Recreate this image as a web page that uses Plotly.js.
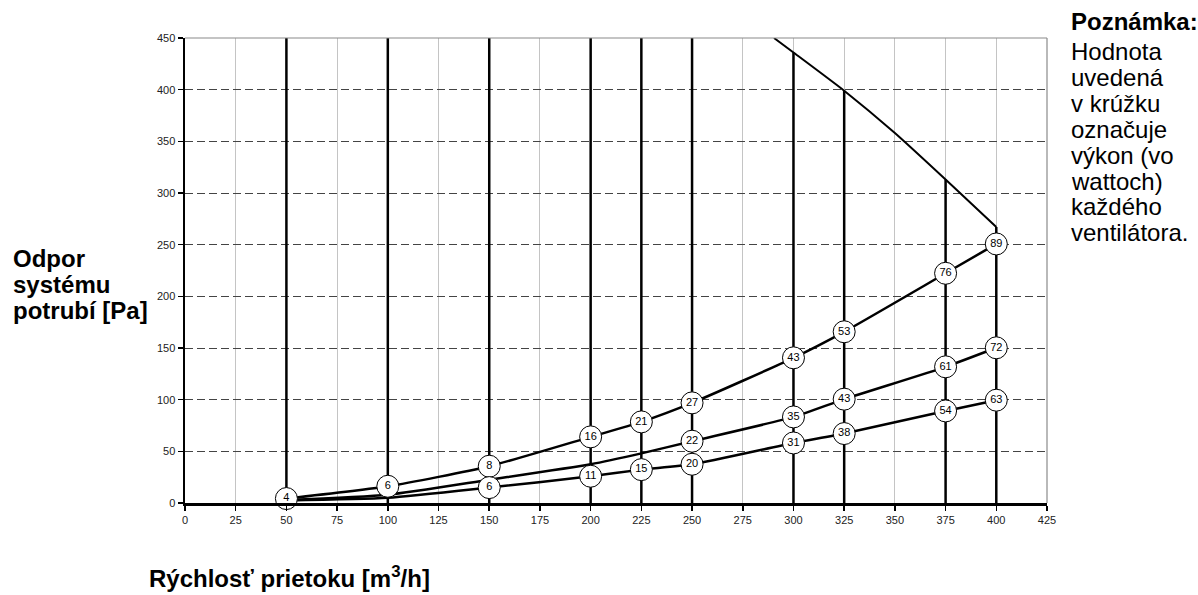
<!DOCTYPE html>
<html>
<head>
<meta charset="utf-8">
<script src="https://cdn.plot.ly/plotly-3.0.1.min.js"></script>
<style>html,body{margin:0;padding:0;background:#fff;}#chart{width:1198px;height:595px;}</style>
</head>
<body>
<div id="chart"></div>
<script>
// ---- data ----
var flows = [50, 100, 150, 200, 225, 250, 300, 325, 375, 400];
var fanTop = [450, 450, 450, 450, 450, 450, 436, 399, 313, 267];

var limitX = [290.4, 300, 325, 350, 375, 400];
var limitY = [450, 436, 399, 358, 313, 267];

var highY = [4.3, 16.2, 35.6, 64, 78.5, 96.9, 140.5, 165.7, 222.3, 250.7];
var highW = [4, 6, 8, 16, 21, 27, 43, 53, 76, 89];

var midY = [3, 8, 22.5, 37.5, 48, 59.8, 83.3, 100.5, 131.8, 150.2];
var midW = [null, null, null, null, null, 22, 35, 43, 61, 72];

var lowY = [2.5, 5, 14.9, 25.9, 32.3, 37.5, 58.1, 67.2, 89.1, 99.5];
var lowW = [null, null, 6, 11, 15, 20, 31, 38, 54, 63];

var xTicks = [0, 25, 50, 75, 100, 125, 150, 175, 200, 225, 250, 275, 300, 325, 350, 375, 400, 425];
var yTicks = [0, 50, 100, 150, 200, 250, 300, 350, 400, 450];

var yTitleLines = ["Odpor", "systému", "potrubí [Pa]"];
var xTitle = "Rýchlosť prietoku [m<sup>3</sup>/h]";
var noteLines = ["<b>Poznámka:</b>", "Hodnota", "uvedená", "v krúžku", "označuje", "výkon (vo", "wattoch)", "každého", "ventilátora."];

// ---- build traces ----
var FONT = "Arial, 'Liberation Sans', sans-serif";
var vx = [], vy = [];
for (var i = 0; i < flows.length; i++) {
  vx.push(flows[i], flows[i], null);
  vy.push(0, fanTop[i], null);
}
var traces = [];
traces.push({x: vx, y: vy, mode: 'lines', line: {color: '#000', width: 2.5}, hoverinfo: 'skip'});
traces.push({x: limitX, y: limitY, mode: 'lines', line: {color: '#000', width: 2, shape: 'spline', smoothing: 0.5}, hoverinfo: 'skip'});
[highY, midY, lowY].forEach(function (ys) {
  traces.push({x: flows, y: ys, mode: 'lines', line: {color: '#000', width: 2.5, shape: 'spline', smoothing: 0.6}, hoverinfo: 'skip'});
});
var mx = [], my = [], mt = [];
[[highY, highW], [midY, midW], [lowY, lowW]].forEach(function (p) {
  for (var i = 0; i < flows.length; i++) {
    if (p[1][i] !== null) { mx.push(flows[i]); my.push(p[0][i]); mt.push(String(p[1][i])); }
  }
});
traces.push({x: mx, y: my, text: mt, mode: 'markers+text', textposition: 'middle center',
  textfont: {family: FONT, size: 11, color: '#000'},
  marker: {size: 22, color: '#fff', line: {color: '#000', width: 1}},
  cliponaxis: false, hoverinfo: 'skip'});

// ---- annotations ----
var L = 185, R = 1047, T = 38, B = 503, W = 1198, H = 595;
function px(x) { return (x - L) / (R - L); }
function py(y) { return (B - y) / (B - T); }
var ann = [];
var yCenters = [258, 284, 310];
yTitleLines.forEach(function (t, i) {
  ann.push({xref: 'paper', yref: 'paper', x: px(11), y: py(yCenters[i]), xanchor: 'left', yanchor: 'middle',
    text: '<b>' + t + '</b>', showarrow: false, font: {family: FONT, size: 24, color: '#000'}});
});
ann.push({xref: 'paper', yref: 'paper', x: px(147), y: py(577), xanchor: 'left', yanchor: 'middle',
  text: '<b>' + xTitle + '</b>', showarrow: false, font: {family: FONT, size: 24, color: '#000'}});
noteLines.forEach(function (t, i) {
  var c = i === 0 ? 22 : 51 + 26 * (i - 1);
  ann.push({xref: 'paper', yref: 'paper', x: px(1069), y: py(c), xanchor: 'left', yanchor: 'middle',
    text: t, showarrow: false, font: {family: FONT, size: 24, color: '#000'}});
});

var layout = {
  width: W, height: H,
  margin: {l: L, r: W - R, t: T, b: H - B, pad: 0},
  paper_bgcolor: '#fff', plot_bgcolor: '#fff',
  showlegend: false,
  font: {family: FONT, color: '#000'},
  xaxis: {range: [0, 425], tickvals: xTicks, ticktext: xTicks.map(String), ticks: 'outside', ticklen: 5, tickwidth: 1.5, tickcolor: '#000',
    showgrid: true, gridcolor: '#c4c4c4', gridwidth: 1, zeroline: false,
    showline: true, linecolor: '#000', linewidth: 2.5, tickfont: {family: FONT, size: 11, color: '#222'}, fixedrange: true},
  yaxis: {range: [0, 450], tickvals: yTicks, ticktext: yTicks.map(String), ticks: 'outside', ticklen: 5, tickwidth: 1.5, tickcolor: '#000',
    showgrid: true, gridcolor: '#444', gridwidth: 1, griddash: '8px,4px', zeroline: false,
    showline: true, linecolor: '#000', linewidth: 2.5, tickfont: {family: FONT, size: 11, color: '#222'}, fixedrange: true},
  shapes: [
    {type: 'line', xref: 'paper', yref: 'paper', x0: 0, x1: 1, y0: 1, y1: 1, line: {color: '#8a8a8a', width: 1.2}, layer: 'above'},
    {type: 'line', xref: 'paper', yref: 'paper', x0: 1, x1: 1, y0: 0, y1: 1, line: {color: '#8a8a8a', width: 1.2}, layer: 'above'}
  ],
  annotations: ann
};
Plotly.newPlot('chart', traces, layout, {staticPlot: true, displayModeBar: false});
</script>
</body>
</html>
